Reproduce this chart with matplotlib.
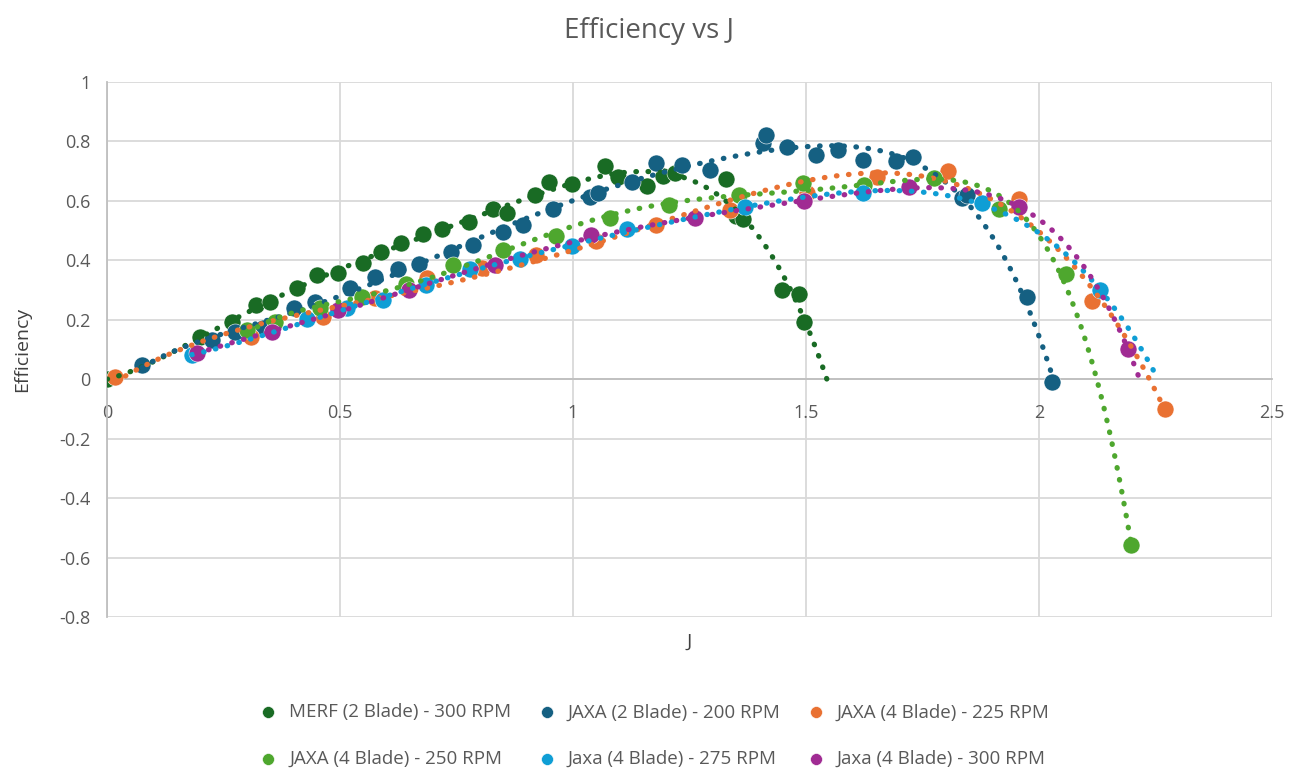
import numpy as np
import matplotlib
matplotlib.use("Agg")
import matplotlib.pyplot as plt

# --- données ---
merf_x = [0.0, 0.200, 0.268, 0.320, 0.350, 0.408, 0.451, 0.496, 0.549, 0.588, 0.631, 0.678,
          0.719, 0.777, 0.828, 0.858, 0.918, 0.948, 0.998, 1.069, 1.097, 1.159, 1.193, 1.219,
          1.328, 1.350, 1.365, 1.448, 1.485, 1.496]
merf_y = [0.0, 0.141, 0.192, 0.249, 0.259, 0.306, 0.350, 0.357, 0.391, 0.428, 0.458, 0.488,
          0.505, 0.529, 0.572, 0.559, 0.620, 0.663, 0.657, 0.717, 0.680, 0.650, 0.684, 0.694,
          0.673, 0.550, 0.540, 0.300, 0.286, 0.192]

jaxa2_x = [0.075, 0.225, 0.275, 0.335, 0.401, 0.446, 0.521, 0.575, 0.624, 0.670, 0.738, 0.785,
           0.850, 0.893, 0.957, 1.036, 1.054, 1.127, 1.178, 1.234, 1.294, 1.408, 1.414, 1.459,
           1.521, 1.569, 1.622, 1.693, 1.730, 1.835, 1.845, 1.974, 2.028]
jaxa2_y = [0.047, 0.131, 0.158, 0.172, 0.239, 0.259, 0.306, 0.343, 0.370, 0.387, 0.428, 0.451,
           0.495, 0.519, 0.572, 0.613, 0.626, 0.663, 0.727, 0.721, 0.704, 0.795, 0.822, 0.781,
           0.754, 0.771, 0.737, 0.734, 0.747, 0.609, 0.620, 0.276, -0.010]

j225_x = [0.017, 0.310, 0.464, 0.575, 0.687, 0.805, 0.921, 1.049, 1.178, 1.337, 1.502, 1.652,
          1.805, 1.957, 2.114, 2.270]
j225_y = [0.007, 0.141, 0.209, 0.273, 0.340, 0.374, 0.418, 0.465, 0.519, 0.569, 0.626, 0.680,
          0.700, 0.606, 0.263, -0.101]

j250_x = [0.300, 0.360, 0.457, 0.547, 0.642, 0.742, 0.850, 0.963, 1.079, 1.206, 1.357, 1.494,
          1.624, 1.775, 1.914, 2.058, 2.197]
j250_y = [0.165, 0.192, 0.239, 0.276, 0.322, 0.384, 0.434, 0.481, 0.542, 0.586, 0.619, 0.660,
          0.653, 0.677, 0.572, 0.354, -0.559]

j275_x = [0.182, 0.429, 0.515, 0.592, 0.685, 0.779, 0.886, 0.998, 1.116, 1.369, 1.622, 1.877, 2.131]
j275_y = [0.081, 0.202, 0.239, 0.266, 0.316, 0.370, 0.404, 0.448, 0.505, 0.579, 0.626, 0.593, 0.300]

j300_x = [0.193, 0.354, 0.496, 0.648, 0.833, 1.039, 1.262, 1.496, 1.721, 1.957, 2.191]
j300_y = [0.087, 0.158, 0.232, 0.300, 0.384, 0.485, 0.542, 0.599, 0.646, 0.579, 0.101]

labels = ["MERF (2 Blade) - 300 RPM", "JAXA (2 Blade) - 200 RPM", "JAXA (4 Blade) - 225 RPM",
          "JAXA (4 Blade) - 250 RPM", "Jaxa (4 Blade) - 275 RPM", "Jaxa (4 Blade) - 300 RPM"]
colors = ["#196B24", "#156082", "#E97132", "#4EA72E", "#0F9ED5", "#A02B93"]
series = [(merf_x, merf_y), (jaxa2_x, jaxa2_y), (j225_x, j225_y),
          (j250_x, j250_y), (j275_x, j275_y), (j300_x, j300_y)]
trend_end = [1.548, 2.03, 2.27, 2.197, 2.255, 2.22]
trend_deg = [6, 6, 4, 6, 5, 6]

plt.rcParams["font.family"] = ["Open Sans", "DejaVu Sans"]

fig = plt.figure(figsize=(12.99, 7.72), dpi=100)
ax = fig.add_axes([0.0824, 0.2008, 0.8968, 0.693])

handles = []
for (x, y), c, lab, xe, d in zip(series, colors, labels, trend_end, trend_deg):
    h = ax.scatter(x, y, s=150, color=c, edgecolor="white", linewidth=0.4, zorder=3, label=lab)
    handles.append(h)
    # --- courbe de tendance polynomiale ---
    coef = np.polyfit(x, y, d)
    xs = np.linspace(min(x), xe, 300)
    ax.plot(xs, np.polyval(coef, xs), color=c, lw=3.8, linestyle=(0, (0.1, 2.2)),
            dash_capstyle="round", zorder=4)

ax.set_xlim(0, 2.5)
ax.set_ylim(-0.8, 1.0)
ax.set_xticks(np.arange(0, 2.51, 0.5))
ax.set_xticklabels(["0", "0.5", "1", "1.5", "2", "2.5"])
ax.set_yticks(np.arange(-0.8, 1.01, 0.2))
ax.set_yticklabels(["-0.8", "-0.6", "-0.4", "-0.2", "0", "0.2", "0.4", "0.6", "0.8", "1"])
ax.grid(True, color="#D9D9D9", lw=1.3, zorder=0)
ax.set_axisbelow(True)
for s in ["top", "right"]:
    ax.spines[s].set_visible(False)
ax.spines["bottom"].set_position(("data", 0))
ax.spines["bottom"].set_color("#BFBFBF")
ax.spines["left"].set_color("#BFBFBF")
ax.spines["bottom"].set_linewidth(1.3)
ax.spines["left"].set_linewidth(1.3)
ax.tick_params(length=0, labelsize=13, labelcolor="#595959")
ax.tick_params(axis="x", pad=18)
ax.tick_params(axis="y", pad=12)

ax.set_ylabel("Efficiency", fontsize=14, color="#404040", labelpad=20)
ax.text(0.5, -0.03, "J", transform=ax.transAxes, ha="center", va="top",
        fontsize=14, color="#404040")
fig.suptitle("Efficiency vs J", fontsize=20, color="#595959", y=0.978)

order = [0, 3, 1, 4, 2, 5]
fig.legend([handles[i] for i in order], [labels[i] for i in order], loc="lower center",
           ncol=3, frameon=False, fontsize=13.5, labelcolor="#595959",
           bbox_to_anchor=(0.5, -0.016), handletextpad=0.1, columnspacing=0.9,
           markerscale=0.7, labelspacing=1.5)

fig.savefig("out.png", dpi=100)
